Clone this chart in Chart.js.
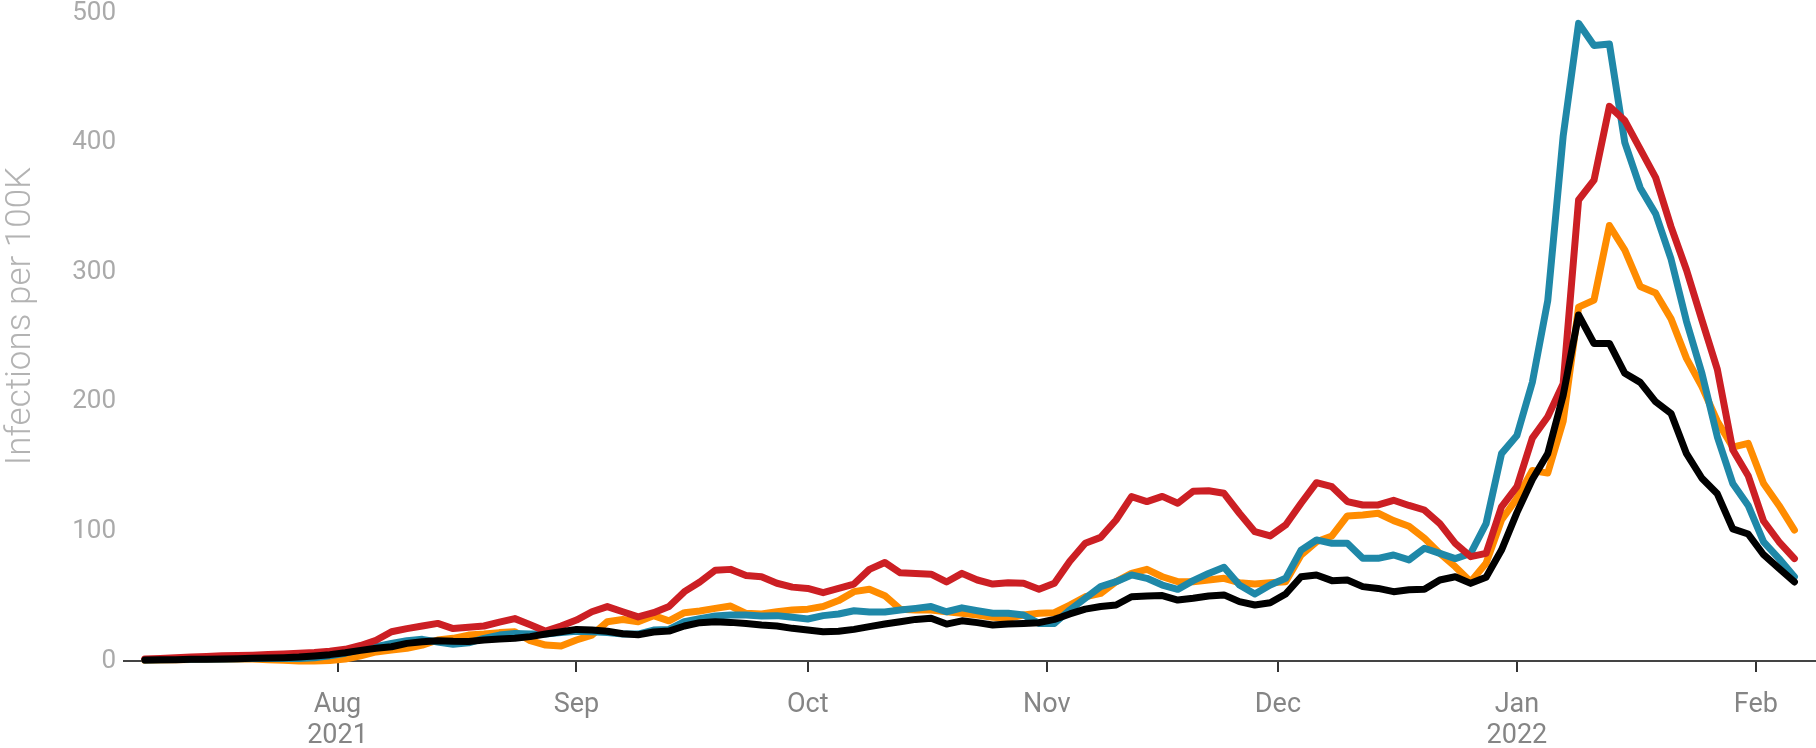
<!DOCTYPE html>
<html>
<head>
<meta charset="utf-8">
<script src="https://cdn.jsdelivr.net/npm/chart.js@4.4.1/dist/chart.umd.min.js"></script>
<style>
  html, body { margin: 0; padding: 0; background: #fff; }
  #caja { width: 1816px; height: 748px; }
</style>
</head>
<body>
<div id="caja"><canvas id="grafico"></canvas></div>
<script>
// dias contados desde el 1 de julio 2021
const dias = [
  6,8,10,12,14,16,18,20,22,24,26,28,30,32,34,36,38,
  40,42,44,46,48,50,52,54,56,58,60,62,64,66,68,70,
  72,74,76,78,80,82,84,86,88,90,92,94,96,98,100,102,
  104,106,108,110,112,114,116,118,120,122,124,126,128,130,132,134,136,
  138,140,142,144,146,148,150,152,154,156,158,160,162,164,166,168,
  170,172,174,176,178,180,182,184,186,188,190,192,194,196,198,200,202,204,206,208,210,212,214,216,218,220
];

const negro = [
  0.8,1.0,1.0,1.3,1.3,1.5,1.8,2.1,2.3,2.6,3.1,3.9,4.9,6.4,8.2,9.8,11,
  13.6,14.9,15.7,15.2,15,16.2,17,17.5,18.8,20.8,22.6,24.4,24,23,21,20.3,
  22.4,23.1,27,29.6,30.3,29.8,29,27.8,27,25.2,23.9,22.6,22.9,24.4,26.5,28.5,
  30.3,32.1,33,28.5,31,29.6,27.8,28.5,29,29.6,32.1,36.3,40,42,43.2,49.6,50.2,
  50.5,47,48.4,50.2,51,45.8,43.2,45,51.7,65,66.4,62,62.5,57.4,56,53.5,
  55,55.3,62.5,65,59.9,64.6,85.6,114.5,140,160,205,267,245,245,222,215,200,191,160,141,129,102,98,82,71.5,61
];

const rojo = [
  1.5,2,2.5,3,3.5,4,4.2,4.5,5,5.5,6,6.5,7.5,9,12,16,22.6,
  25,27,29,25,26,27,30,32.7,28,23,27,31.6,38,42,38,34,
  37.3,42,53.5,61,70,70.7,66,65,60,57,56,52.7,56,59.4,70.7,76,
  68,67.6,67,61,67.6,62.5,59.4,60.4,60,55.3,60,77,90.8,95.4,108.8,126.8,123,
  127,121.7,131,131.4,129.4,114,99.8,96.5,105,121.7,137.6,134.5,123,120.4,120.4,124,
  120,116.5,106,90.8,80.5,83,119,134.5,172,188.5,214,355.7,371,428,417,395,373,335,301.7,263,225,163,143,108,92,79
];

const azul = [
  0.8,1,1.2,1.3,1.5,1.6,1.8,2,2,2,2,2.5,4,6,9,11,13.6,
  15.7,16.7,14.7,12.9,14,17.5,20,21.3,20.8,20.8,21.9,23,22.6,21.9,20.8,20.8,
  23.9,24.4,30.3,32.7,34.7,35.5,35.5,34.7,35,33.7,32.4,35,36.3,38.8,37.8,37.8,
  39.4,40.6,42,38,41,38.8,36.8,36.8,35.5,29,29,39.4,48.4,57.4,61.2,66.4,63.8,
  58.6,55.3,62,67.6,72.3,58.6,51.7,58.6,63.8,85.6,93.4,90.8,90.8,79.2,79.2,81.8,
  78,87,83,79,83,106,160,174,215,278,405,492,475,476,400,365,345,310,262,222,173,137,120,92,79,65
];

const naranja = [
  0.5,0.8,1,1.2,1.5,1.5,1.5,1.5,1,0.5,0,0,0.3,1.5,4,7,8.5,
  9.8,12.3,16.2,17.5,20,20.8,21.9,22.6,15.7,12.3,11.6,16.2,20,30.3,32,30.3,
  35,31,37.3,38.6,40.6,42.4,36.8,36.3,38,39.4,40,42,46.6,53.5,55.3,50.4,
  40,39.4,39.4,38,36.8,35.5,33.7,33,35.5,36.8,37.3,43.2,49.6,52.2,61.2,67.6,70.7,
  65,61.2,61.2,62.5,63.8,60.4,59.4,60.4,61.2,81.8,92,96.5,111.9,112.7,114,108.3,
  104,94.7,83,72.8,61.2,75.4,108.8,125.5,147,145,185,273,278.5,336,317,289,284,264,233.5,211.7,185,165,168,137,120,101
];

// marcas del eje x (inicio de cada mes)
const mesesDia = [31, 62, 92, 123, 153, 184, 215];
const mesesTexto = [['Aug', '2021'], 'Sep', 'Oct', 'Nov', 'Dec', ['Jan', '2022'], 'Feb'];

const yTicks = [0, 100, 200, 300, 400, 500];
const tituloTexto = 'Infections per 100K';

function serie(valores, color) {
  return {
    data: valores.map((v, i) => ({ x: dias[i], y: v })),
    borderColor: color,
    borderWidth: 7,
    borderCapStyle: 'round',
    borderJoinStyle: 'round',
    pointRadius: 0,
    tension: 0,
    clip: 10
  };
}

// titulo del eje y, un poco por encima del centro como en el original
const tituloY = {
  id: 'tituloY',
  afterDraw(chart) {
    const ctx = chart.ctx;
    ctx.save();
    ctx.translate(21, 316);
    ctx.rotate(-Math.PI / 2);
    ctx.font = '300 35px Roboto';
    ctx.fillStyle = '#b3b3b3';
    ctx.textAlign = 'center';
    ctx.textBaseline = 'middle';
    ctx.fillText(tituloTexto, 0, 0);
    ctx.restore();
  }
};

const data = {
  datasets: [
    serie(negro, '#000000'),
    serie(rojo, '#cc1f24'),
    serie(azul, '#1f88a8'),
    serie(naranja, '#ff8c00')
  ]
};

const config = {
  type: 'line',
  data: data,
  plugins: [tituloY],
  options: {
    responsive: true,
    maintainAspectRatio: false,
    animation: false,
    layout: { padding: 0 },
    plugins: { legend: { display: false }, tooltip: { enabled: false } },
    scales: {
      x: {
        type: 'linear',
        min: 3.3,
        max: 222.8,
        afterBuildTicks: (eje) => { eje.ticks = mesesDia.map((d) => ({ value: d })); },
        afterFit: (eje) => { eje.height = 87; },
        grid: { display: true, drawOnChartArea: false, drawTicks: true, tickLength: 11, color: '#333', lineWidth: 2 },
        border: { display: true, color: '#444', width: 2 },
        ticks: {
          autoSkip: false,
          maxRotation: 0,
          padding: 18,
          color: '#858585',
          font: { family: "'Liberation Sans Narrow', Roboto, sans-serif", size: 27, lineHeight: 1.15 },
          callback: (v) => mesesTexto[mesesDia.indexOf(v)]
        }
      },
      y: {
        min: 0,
        max: 500,
        afterBuildTicks: (eje) => { eje.ticks = yTicks.map((v) => ({ value: v })); },
        afterFit: (eje) => { eje.width = 124; },
        grid: { display: false },
        border: { display: false },
        ticks: {
          padding: 0,
          color: '#aaaaaa',
          font: { family: 'Roboto', size: 26, lineHeight: 1.0 }
        }
      }
    }
  }
};

const myChart = new Chart(document.getElementById('grafico'), config);
</script>
</body>
</html>
